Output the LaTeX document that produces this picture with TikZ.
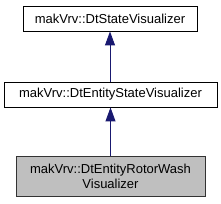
\documentclass[tikz,border=0pt]{standalone}
\usepackage{fontspec}
\setmainfont{Liberation Sans}
\usetikzlibrary{arrows.meta}
\definecolor{edgeblue}{HTML}{191970}
\definecolor{grayfill}{HTML}{BFBFBF}
\tikzset{
  cls/.style={draw=black, line width=0.9pt, inner sep=0pt, font=\fontsize{13}{15}\selectfont, align=center},
  cur/.style={cls, fill=grayfill, draw=black!80},
  inh/.style={draw=edgeblue, line width=0.9pt, -{Triangle[width=10pt,length=14pt]}}
}
\begin{document}
\begin{tikzpicture}[x=1pt,y=1pt]
\useasboundingbox (0,0) rectangle (221,203);
\node[cls, minimum width=174pt, minimum height=25pt] (top) at (110,184.5) {makVrv::DtStateVisualizer};
\node[cls, minimum width=213pt, minimum height=25pt] (mid) at (110.5,108.5) {makVrv::DtEntityStateVisualizer};
\node[cur, minimum width=189pt, minimum height=40pt] (bot) at (110.5,27) {makVrv::DtEntityRotorWash\\Visualizer};
\draw[inh] (mid.north -| top.south) -- (top.south);
\draw[inh] (bot.north) -- (mid.south);
\end{tikzpicture}
\end{document}
